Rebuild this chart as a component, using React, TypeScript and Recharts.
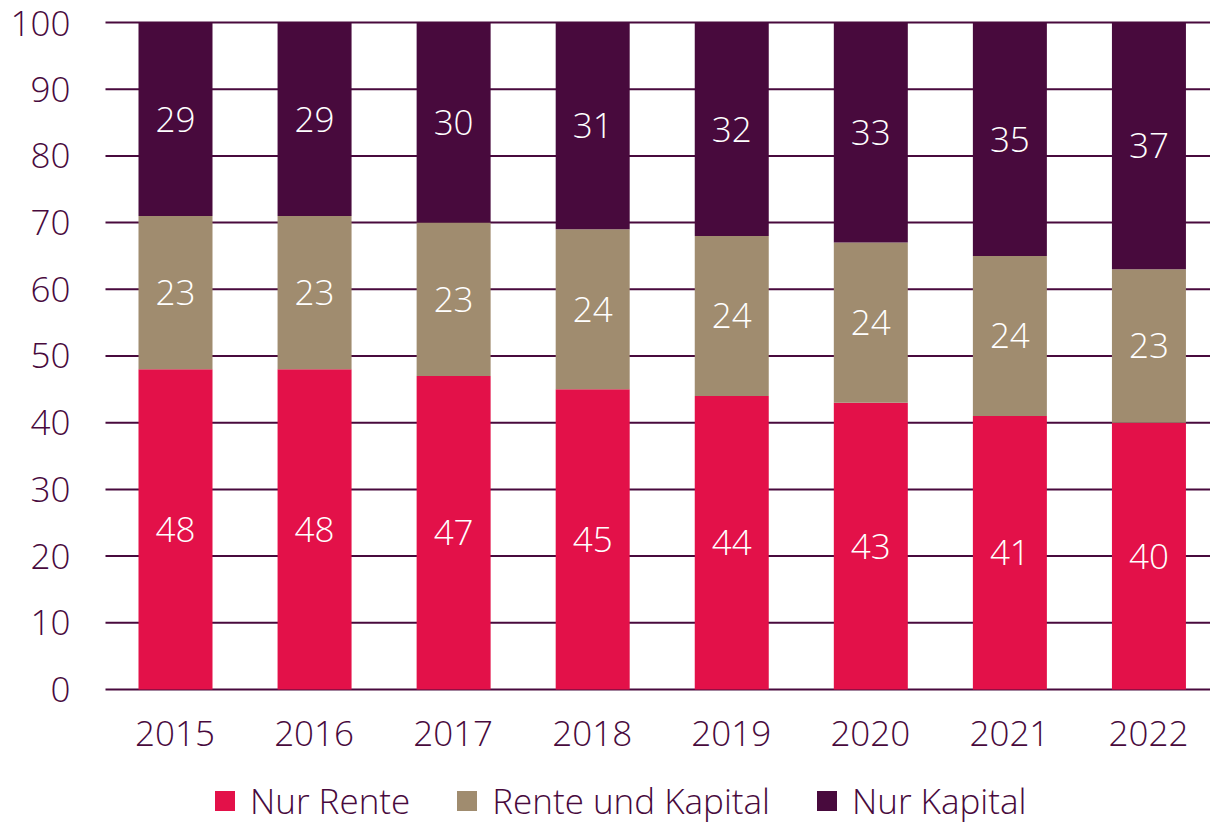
import { BarChart, Bar, XAxis, YAxis, CartesianGrid, LabelList } from "recharts";

const years = ["2015", "2016", "2017", "2018", "2019", "2020", "2021", "2022"];
const nurRente = [48, 48, 47, 45, 44, 43, 41, 40];
const renteUndKapital = [23, 23, 23, 24, 24, 24, 24, 23];
const nurKapital = [29, 29, 30, 31, 32, 33, 35, 37];
const yTicks = [0, 10, 20, 30, 40, 50, 60, 70, 80, 90, 100];

const RED = "#e31149";
const TAN = "#a08c6f";
const PURPLE = "#480a3d";
const FONT = "'Open Sans', 'Noto Sans', sans-serif";

const data = years.map((year, i) => ({
  year,
  rente: nurRente[i],
  beides: renteUndKapital[i],
  kapital: nurKapital[i],
}));

const legendItems = [
  { label: "Nur Rente", color: RED },
  { label: "Rente und Kapital", color: TAN },
  { label: "Nur Kapital", color: PURPLE },
];

const tickStyle = { fill: PURPLE, fontSize: 35, fontFamily: FONT, fontWeight: 300 };
const labelStyle = { fill: "#ffffff", fontSize: 35, fontFamily: FONT, fontWeight: 300 };

export default function App() {
  return (
    <div
      style={{
        position: "absolute",
        left: 0,
        top: 0,
        width: 1210,
        height: 823,
        overflow: "hidden",
        background: "#fff",
      }}
    >
      <BarChart
        width={1218}
        height={823}
        data={data}
        margin={{ top: 22.5, right: 0, left: 0, bottom: 73.5 }}
      >
        <CartesianGrid vertical={false} stroke={PURPLE} strokeWidth={2} />
        <XAxis
          dataKey="year"
          axisLine={false}
          tickLine={false}
          tickSize={0}
          tickMargin={32}
          height={60}
          tick={tickStyle}
        />
        <YAxis
          domain={[0, 100]}
          ticks={yTicks}
          axisLine={false}
          tickLine={false}
          tickSize={0}
          tickMargin={35}
          width={105.5}
          tick={tickStyle}
        />
        <Bar dataKey="rente" stackId="a" fill={RED} barSize={74} isAnimationActive={false}>
          <LabelList dataKey="rente" position="center" style={labelStyle} />
        </Bar>
        <Bar dataKey="beides" stackId="a" fill={TAN} barSize={74} isAnimationActive={false}>
          <LabelList dataKey="beides" position="center" style={labelStyle} />
        </Bar>
        <Bar dataKey="kapital" stackId="a" fill={PURPLE} barSize={74} isAnimationActive={false}>
          <LabelList dataKey="kapital" position="center" style={labelStyle} />
        </Bar>
      </BarChart>

      {/* Legend */}
      <div
        style={{
          position: "absolute",
          left: 215,
          top: 781,
          height: 40,
          display: "flex",
          alignItems: "center",
          fontFamily: FONT,
          fontWeight: 300,
          fontSize: 35,
          lineHeight: "40px",
          color: PURPLE,
          whiteSpace: "nowrap",
        }}
      >
        {legendItems.map((item, i) => (
          <div
            key={item.label}
            style={{ display: "flex", alignItems: "center", marginRight: i < 2 ? 47 : 0 }}
          >
            <div style={{ width: 20, height: 20, background: item.color, marginRight: 15 }} />
            <span style={{ display: "inline-block", height: 40, lineHeight: "40px" }}>
              {item.label}
            </span>
          </div>
        ))}
      </div>
    </div>
  );
}
